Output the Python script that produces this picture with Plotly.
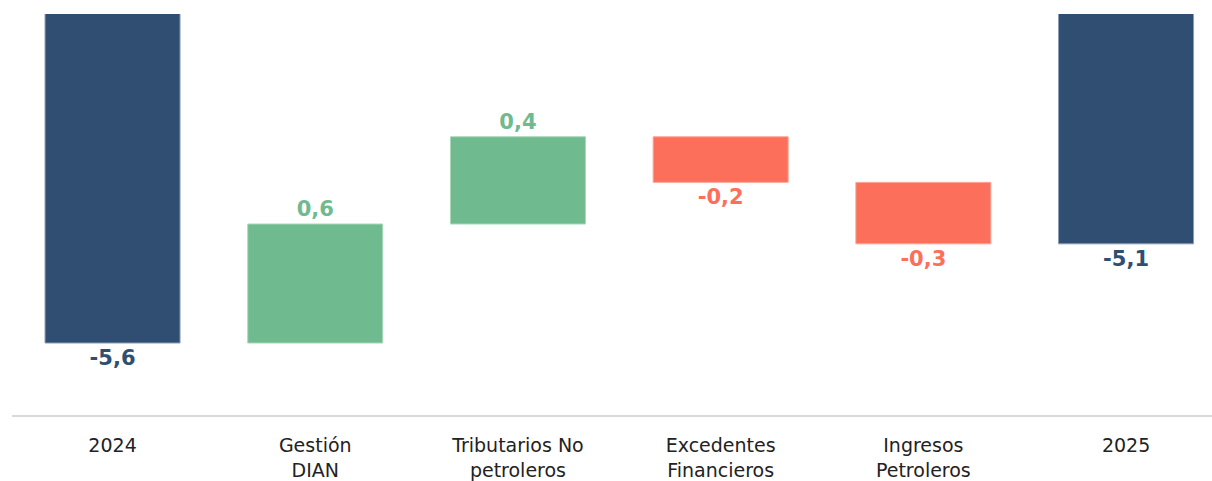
import plotly.graph_objects as go

categories = ["2024", "Gestión<br>DIAN", "Tributarios No<br>petroleros",
              "Excedentes<br>Financieros", "Ingresos<br>Petroleros", "2025"]
values = [-5.60, 0.60, 0.44, -0.23, -0.31, -5.10]
measures = ["absolute", "relative", "relative", "relative", "relative", "total"]

NAVY = "#2f4e71"
GREEN = "#6fba8e"
RED = "#fb6f5b"

labels = [f"{v:.1f}".replace(".", ",") for v in values]
text_colors = [NAVY if m != "relative" else (GREEN if v > 0 else RED)
               for m, v in zip(measures, values)]

fig = go.Figure(go.Waterfall(
    x=categories,
    y=values,
    measure=measures,
    text=[f"<b>{t}</b>" for t in labels],
    textposition="outside",
    textfont=dict(family="Verdana, DejaVu Sans", size=21, color=text_colors),
    width=0.666,
    increasing=dict(marker=dict(color=GREEN, line=dict(color="#a9d6bb", width=1))),
    decreasing=dict(marker=dict(color=RED, line=dict(color="#fda698", width=1))),
    totals=dict(marker=dict(color=NAVY, line=dict(color="#8a9db3", width=1))),
    connector=dict(visible=False),
    cliponaxis=True,
    hoverinfo="skip",
))

fig.update_layout(
    width=1212, height=481,
    margin=dict(l=12, r=0, t=14, b=66, autoexpand=False),
    paper_bgcolor="white", plot_bgcolor="white",
    showlegend=False,
    font=dict(family="Verdana, DejaVu Sans", size=19, color="#222222"),
    xaxis=dict(range=[-0.496, 5.424], showline=True, linecolor="#d9d9d9",
               linewidth=2, showgrid=False, ticks="", zeroline=False,
               ticklabelstandoff=12, automargin=False,
               tickfont=dict(size=19, color="#222222")),
    yaxis=dict(range=[-5.963, -3.941], visible=False, showgrid=False,
               zeroline=False),
)

fig.write_html(
    "out.html",
    config={"displayModeBar": False},
    post_script="document.body.style.margin='0';document.body.style.overflow='hidden';",
)
